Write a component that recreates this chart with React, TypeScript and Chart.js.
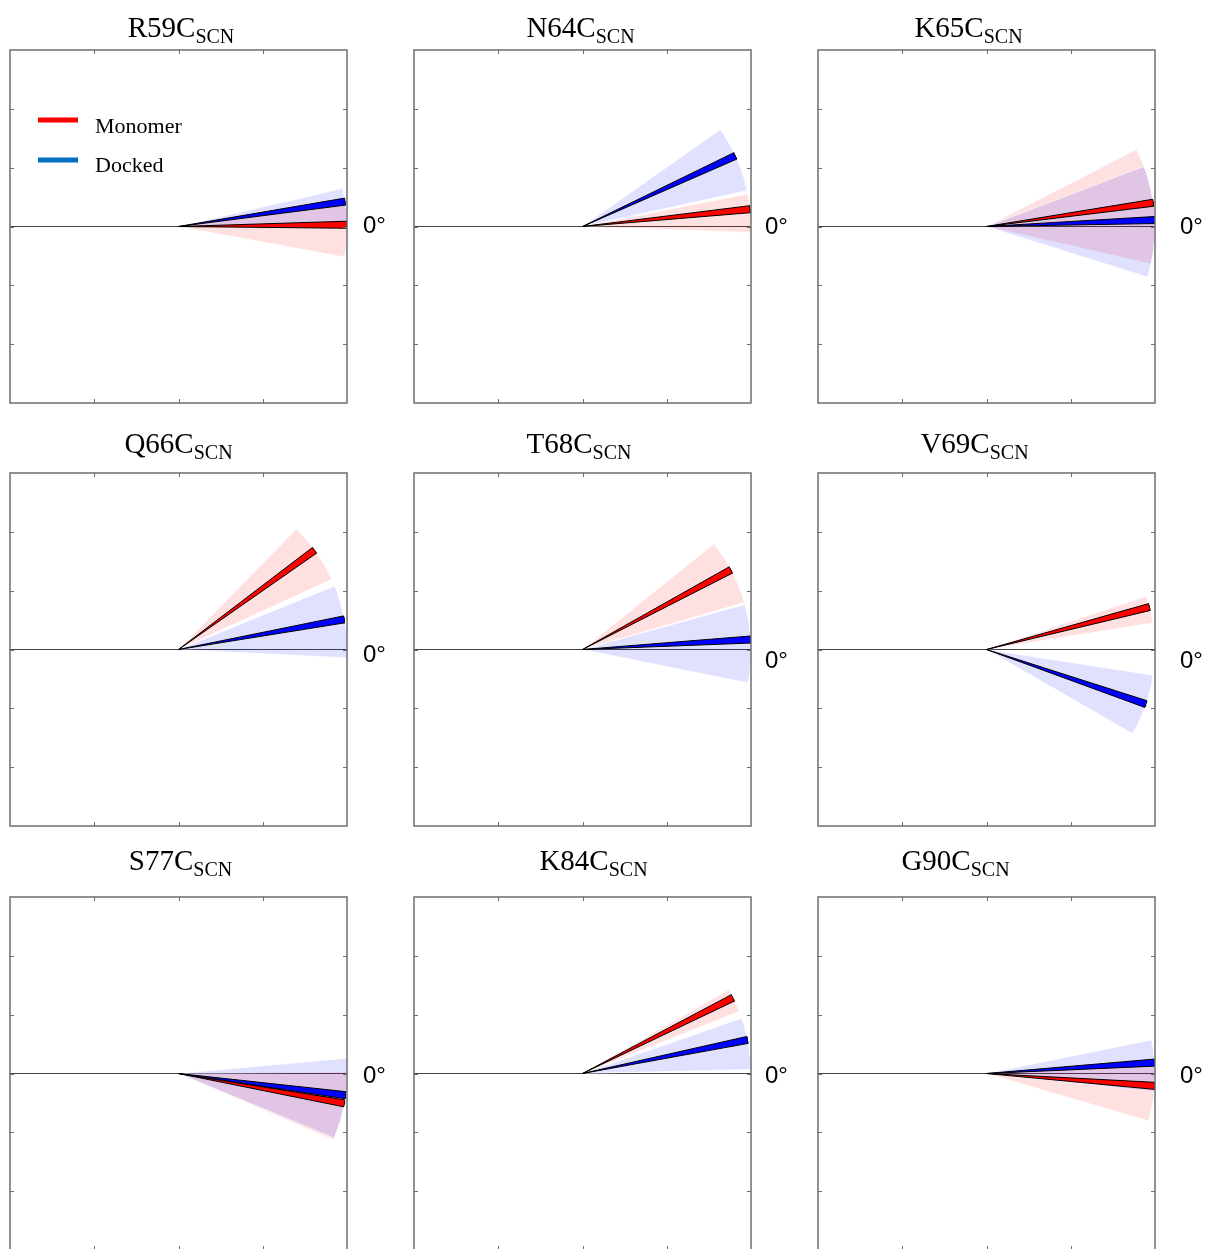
import React, { useEffect, useRef } from 'react';
import { Chart, registerables } from 'chart.js';

Chart.register(...registerables);

// ---- data -------------------------------------------------------------
// Cysteine mutants carrying the SCN probe (suffix drawn as subscript)
const MUTANTS = ['R59C', 'N64C', 'K65C', 'Q66C', 'T68C', 'V69C', 'S77C', 'K84C', 'G90C'];
const LABEL_SUFFIX = 'SCN';
const SERIES_NAMES = ['Monomer', 'Docked'];
const ZERO_LABEL = '0\u00b0';

// Probe orientation in degrees (mean, and the lower / upper edge of the spread)
const MONOMER_MEAN = [0.6, 5.9, 8.1, 36.1, 28.2, 14.6, -10.2, 26.7, -4.2];
const MONOMER_LOW = [-10.4, -2.0, -12.8, 24.6, 16.2, 9.1, -23.2, 21.6, -16.3];
const MONOMER_HIGH = [7.5, 11.1, 27.2, 45.6, 38.8, 18.4, 0.5, 29.8, 5.2];
const DOCKED_MEAN = [8.5, 24.8, 2.2, 10.3, 3.4, -18.9, -7.4, 11.5, 3.7];
const DOCKED_LOW = [0.5, 12.3, -17.4, -2.8, -11.4, -29.9, -22.5, 1.4, -6.2];
const DOCKED_HIGH = [13.0, 35.1, 20.9, 22.1, 15.5, -8.8, 5.2, 19.1, 11.5];

// ---- layout / style ---------------------------------------------------
const PAGE_W = 1207;
const PAGE_H = 1249;
const COL_LEFT = [0, 404, 808];
const ROW_TOP = [0, 423, 847];
const CANVAS_W = 404;
const CANVAS_H = 424;
const BOX_LEFT = 10;
const BOX_TOP = 50;
const BOX_W = 337;
const BOX_H = 353;
const Y_HALF = BOX_H / BOX_W; // keeps the polar wedges circular
const X_TICKS = [-0.5, 0, 0.5];
const Y_TICKS = [-2, -1, 0, 1, 2].map((k) => (k * Y_HALF) / 3);
const WEDGE_RADIUS = 1;
const MEAN_HALF_WIDTH = 1.2;

const TITLE_CENTER_X = [181, 580.5, 968.5, 178.5, 579, 974.5, 180.5, 593.5, 955.5];
const TITLE_BASELINE = [37, 453, 870];
const ZERO_LABEL_X = [363, 765, 1180];
const ZERO_LABEL_MID_Y = [224, 225, 225, 653, 659, 659, 1074, 1074, 1074];

const MONOMER_COLOR = '#ff0000';
const DOCKED_COLOR = '#0000ff';
const MONOMER_BAND = 'rgba(255, 0, 0, 0.12)';
const DOCKED_BAND = 'rgba(0, 0, 255, 0.12)';
const LEGEND_COLORS = ['#ff0000', '#0070c0'];
const FRAME_COLOR = '#6e6e6e';
const SERIF = '"Liberation Serif", "Times New Roman", serif';
const SANS = '"Liberation Sans", Arial, sans-serif';

// Polygon for a circular sector from angle `from` to `to` (degrees)
function sector(from: number, to: number, r: number) {
  const pts: { x: number; y: number }[] = [{ x: 0, y: 0 }];
  const steps = Math.max(6, Math.ceil(Math.abs(to - from)));
  for (let k = 0; k <= steps; k++) {
    const a = ((from + ((to - from) * k) / steps) * Math.PI) / 180;
    pts.push({ x: r * Math.cos(a), y: r * Math.sin(a) });
  }
  pts.push({ x: 0, y: 0 });
  return pts;
}

const decorPlugin = {
  id: 'panelDecor',
  afterDatasetsDraw(chart: any) {
    const { ctx, chartArea } = chart;
    const xs = chart.scales.x;
    const ys = chart.scales.y;
    ctx.save();
    ctx.strokeStyle = FRAME_COLOR;
    ctx.lineWidth = 1.5;
    ctx.strokeRect(chartArea.left, chartArea.top, chartArea.right - chartArea.left, chartArea.bottom - chartArea.top);
    ctx.lineWidth = 1;
    ctx.beginPath();
    for (const v of X_TICKS) {
      const px = Math.round(xs.getPixelForValue(v)) + 0.5;
      ctx.moveTo(px, chartArea.top);
      ctx.lineTo(px, chartArea.top + 4);
      ctx.moveTo(px, chartArea.bottom);
      ctx.lineTo(px, chartArea.bottom - 4);
    }
    for (const v of Y_TICKS) {
      const py = Math.round(ys.getPixelForValue(v)) + 0.5;
      ctx.moveTo(chartArea.left, py);
      ctx.lineTo(chartArea.left + 4, py);
      ctx.moveTo(chartArea.right, py);
      ctx.lineTo(chartArea.right - 4, py);
    }
    ctx.stroke();
    ctx.restore();
  },
  afterDraw(chart: any, _args: any, opts: any) {
    const { ctx } = chart;
    const i: number = opts.index;
    const col = i % 3;
    const row = Math.floor(i / 3);
    const left = COL_LEFT[col];
    const top = ROW_TOP[row];
    ctx.save();
    ctx.fillStyle = '#000';
    ctx.textBaseline = 'alphabetic';
    ctx.textAlign = 'left';

    // title with subscript
    ctx.font = `29px ${SERIF}`;
    const main = MUTANTS[i];
    const w1 = ctx.measureText(main).width;
    ctx.font = `20px ${SERIF}`;
    const w2 = ctx.measureText(LABEL_SUFFIX).width;
    const gap = 0;
    const x0 = TITLE_CENTER_X[i] - left - (w1 + gap + w2) / 2;
    const base = TITLE_BASELINE[row] - top;
    ctx.font = `29px ${SERIF}`;
    ctx.fillText(main, x0, base);
    ctx.font = `20px ${SERIF}`;
    ctx.fillText(LABEL_SUFFIX, x0 + w1 + gap, base + 6);

    // reference direction label
    ctx.font = `24px ${SANS}`;
    ctx.fillText(ZERO_LABEL, ZERO_LABEL_X[col] - left, ZERO_LABEL_MID_Y[i] - top + 8.6);

    // legend in the first panel
    if (i === 0) {
      const rows = [120, 160];
      const textBase = [133, 172];
      SERIES_NAMES.forEach((name, k) => {
        ctx.strokeStyle = LEGEND_COLORS[k];
        ctx.lineWidth = 5;
        ctx.beginPath();
        ctx.moveTo(38, rows[k]);
        ctx.lineTo(78, rows[k]);
        ctx.stroke();
        ctx.font = `22px ${SERIF}`;
        ctx.fillText(name, 95, textBase[k]);
      });
    }
    ctx.restore();
  },
};

function Panel({ index }: { index: number }) {
  const ref = useRef<HTMLCanvasElement | null>(null);
  useEffect(() => {
    if (!ref.current) return;
    const mean = (m: number) => sector(m - MEAN_HALF_WIDTH, m + MEAN_HALF_WIDTH, WEDGE_RADIUS);
    const chart = new Chart(ref.current, {
      type: 'line',
      data: {
        datasets: [
          {
            label: 'Docked mean',
            data: mean(DOCKED_MEAN[index]),
            backgroundColor: DOCKED_COLOR,
            borderColor: '#000',
            borderWidth: 1,
            fill: 'shape',
            order: 1,
          },
          {
            label: 'Monomer mean',
            data: mean(MONOMER_MEAN[index]),
            backgroundColor: MONOMER_COLOR,
            borderColor: '#000',
            borderWidth: 1,
            fill: 'shape',
            order: 2,
          },
          {
            label: 'Docked spread',
            data: sector(DOCKED_LOW[index], DOCKED_HIGH[index], WEDGE_RADIUS),
            backgroundColor: DOCKED_BAND,
            borderColor: 'rgba(255,255,255,0.55)',
            borderWidth: 1,
            fill: 'shape',
            order: 3,
          },
          {
            label: 'Monomer spread',
            data: sector(MONOMER_LOW[index], MONOMER_HIGH[index], WEDGE_RADIUS),
            backgroundColor: MONOMER_BAND,
            borderColor: 'rgba(255,255,255,0.55)',
            borderWidth: 1,
            fill: 'shape',
            order: 4,
          },
          {
            label: 'reference',
            data: [
              { x: -1, y: 0 },
              { x: 1, y: 0 },
            ],
            borderColor: '#444444',
            borderWidth: 1.2,
            fill: false,
            order: 5,
          },
        ],
      },
      options: {
        responsive: false,
        animation: false,
        devicePixelRatio: 1,
        layout: {
          padding: {
            left: BOX_LEFT,
            top: BOX_TOP,
            right: CANVAS_W - BOX_LEFT - BOX_W,
            bottom: CANVAS_H - BOX_TOP - BOX_H,
          },
        },
        elements: {
          point: { radius: 0, hoverRadius: 0 },
          line: { tension: 0, borderJoinStyle: 'round' },
        },
        scales: {
          x: { type: 'linear', min: -1, max: 1, display: false },
          y: { type: 'linear', min: -Y_HALF, max: Y_HALF, display: false },
        },
        plugins: {
          legend: { display: false },
          title: { display: false },
          tooltip: { enabled: false },
          panelDecor: { index },
        } as any,
        events: [],
      },
      plugins: [decorPlugin],
    } as any);
    return () => chart.destroy();
  }, [index]);

  const col = index % 3;
  const row = Math.floor(index / 3);
  return (
    <canvas
      ref={ref}
      width={CANVAS_W}
      height={CANVAS_H}
      style={{ position: 'absolute', left: COL_LEFT[col], top: ROW_TOP[row], width: CANVAS_W, height: CANVAS_H }}
    />
  );
}

export default function App() {
  return (
    <div
      style={{
        position: 'absolute',
        left: 0,
        top: 0,
        width: PAGE_W,
        height: PAGE_H,
        overflow: 'hidden',
        background: '#fff',
      }}
    >
      {MUTANTS.map((_, i) => (
        <Panel key={i} index={i} />
      ))}
    </div>
  );
}
